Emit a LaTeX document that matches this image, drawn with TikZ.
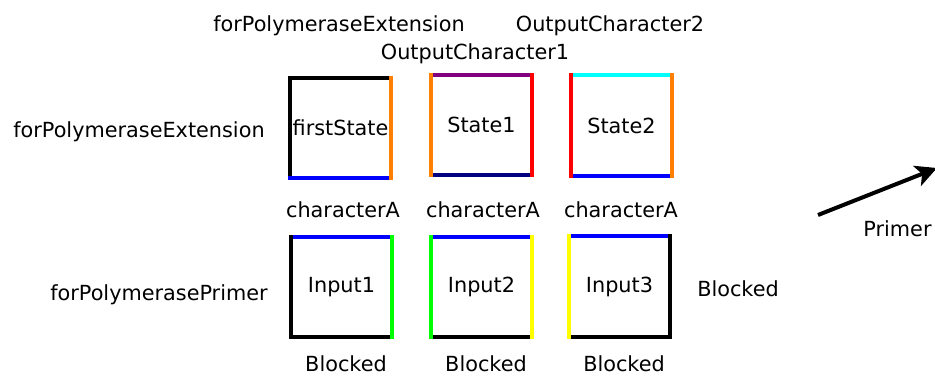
\documentclass[tikz,border=0pt]{standalone}
\usepackage{fontspec}
\setmainfont{DejaVu Sans}
\usepackage{tikz}
\usetikzlibrary{arrows.meta}
\definecolor{sideorange}{RGB}{255,128,0}
\definecolor{sidepurple}{RGB}{128,0,128}
\definecolor{sidenavy}{RGB}{0,0,128}
\definecolor{sidecyan}{RGB}{0,255,255}
\definecolor{sidegreen}{RGB}{0,255,0}
\definecolor{sideyellow}{RGB}{255,255,0}
\definecolor{sidered}{RGB}{255,0,0}
\definecolor{sideblue}{RGB}{0,0,255}
\tikzstyle{tile}=[inner sep=0pt,minimum width=75.75pt,minimum height=75pt,font=\fontsize{15.6}{18}\selectfont]
\tikzstyle{lbl}=[inner sep=0pt,anchor=base,font=\fontsize{15.6}{18}\selectfont]
\tikzstyle{side}=[line width=3pt,line cap=rect]

\begin{document}
\begin{tikzpicture}[x=0.75pt,y=-0.75pt]
\useasboundingbox (0,0) rectangle (935,377);

\node[tile] (firstState) at (340.5,128) {firstState};
\node[tile] (state1) at (481.5,125) {State1};
\node[tile] (state2) at (621.5,125.5) {State2};

\node[tile] (input1) at (341.5,287) {Input1};
\node[tile] (input2) at (481.5,287) {Input2};
\node[tile] (input3) at (619.5,286.5) {Input3};

\draw[side,black] (firstState.south west) -- (firstState.north west) -- (firstState.north east);
\draw[side,sideblue] (firstState.south west) -- (firstState.south east);
\draw[side,sideorange] (firstState.south east) -- (firstState.north east);

\draw[side,sidepurple] (state1.north west) -- (state1.north east);
\draw[side,sidenavy] (state1.south west) -- (state1.south east);
\draw[side,sideorange] (state1.south west) -- (state1.north west);
\draw[side,sidered] (state1.south east) -- (state1.north east);

\draw[side,sidecyan] (state2.north west) -- (state2.north east);
\draw[side,sideblue] (state2.south west) -- (state2.south east);
\draw[side,sidered] (state2.south west) -- (state2.north west);
\draw[side,sideorange] (state2.south east) -- (state2.north east);

\draw[side,sideblue] (input1.north west) -- (input1.north east);
\draw[side,black] (input1.north west) -- (input1.south west) -- (input1.south east);
\draw[side,sidegreen] (input1.south east) -- (input1.north east);

\draw[side,sideblue] (input2.north west) -- (input2.north east);
\draw[side,black] (input2.south west) -- (input2.south east);
\draw[side,sidegreen] (input2.south west) -- (input2.north west);
\draw[side,sideyellow] (input2.south east) -- (input2.north east);

\draw[side,sideblue] (input3.north west) -- (input3.north east);
\draw[side,black] (input3.south west) -- (input3.south east) -- (input3.north east);
\draw[side,sideyellow] (input3.south west) -- (input3.north west);

\node[lbl] (topExtension) at (339,32) {forPolymeraseExtension};
\node[lbl] (outChar2) at (610,32) {OutputCharacter2};
\node[lbl] (outChar1) at (475,60) {OutputCharacter1};
\node[lbl] (leftExtension) at (139,138) {forPolymeraseExtension};
\node[lbl] (leftPrimer) at (159,301) {forPolymerasePrimer};

\node[lbl] (charA1) at (343,218) {characterA};
\node[lbl] (charA2) at (483,218) {characterA};
\node[lbl] (charA3) at (621,218) {characterA};

\node[lbl] (blocked1) at (346,372) {Blocked};
\node[lbl] (blocked2) at (486,372) {Blocked};
\node[lbl] (blocked3) at (624,372) {Blocked};
\node[lbl] (blockedRight) at (738,297) {Blocked};

\node[lbl] (primer) at (897.5,237) {Primer};
\coordinate (primerTail) at (818,215);
\coordinate (primerTip) at (937,168);
\draw[line width=3pt,-{Stealth[length=16pt,width=16pt,inset=4pt]}] (primerTail) -- (primerTip);

\end{tikzpicture}
\end{document}
